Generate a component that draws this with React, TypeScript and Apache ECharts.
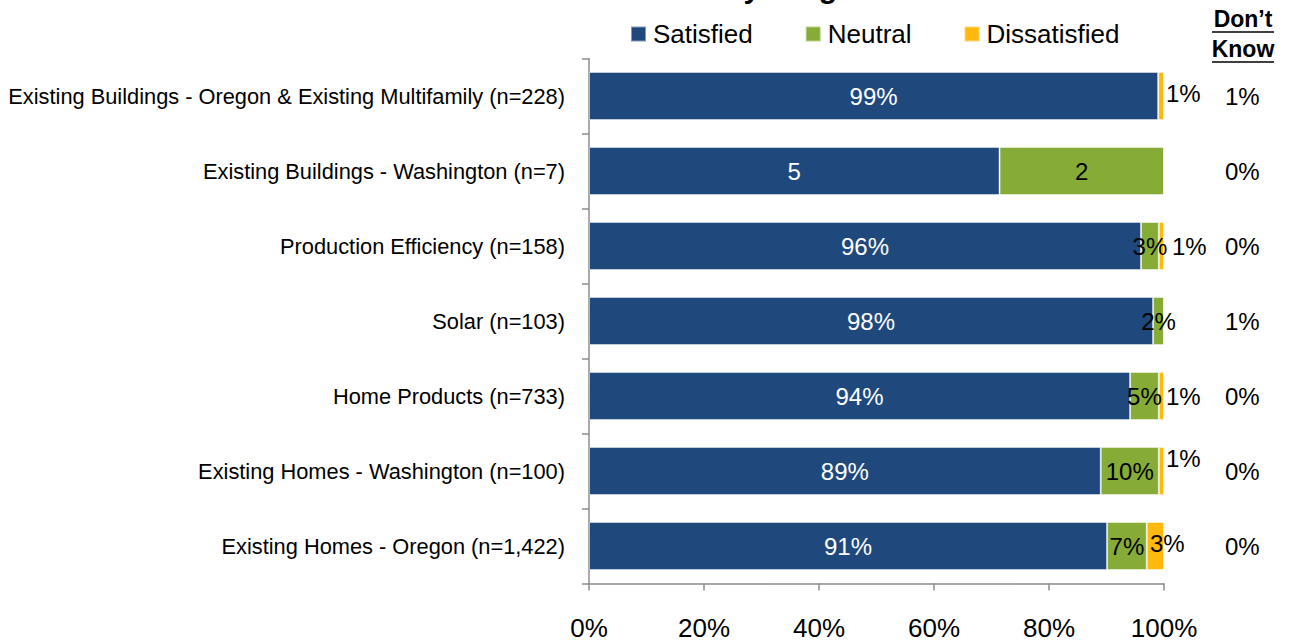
import React, { useEffect, useRef } from "react";
import * as echarts from "echarts";

const categories = [
  "Existing Buildings - Oregon & Existing Multifamily (n=228)",
  "Existing Buildings - Washington (n=7)",
  "Production Efficiency (n=158)",
  "Solar (n=103)",
  "Home Products (n=733)",
  "Existing Homes - Washington (n=100)",
  "Existing Homes - Oregon (n=1,422)",
];
const satisfied = [99, 71.4, 96, 98.1, 94.1, 89, 90.1];
const neutral = [0, 28.6, 3.1, 1.9, 5, 10.1, 6.9];
const dissatisfied = [1, 0, 0.9, 0, 0.9, 0.9, 3];
const satisfiedLabels = ["99%", "5", "96%", "98%", "94%", "89%", "91%"];
const neutralLabels = ["", "2", "3%", "2%", "5%", "10%", "7%"];
const dissatisfiedLabels = ["1%", "", "1%", "", "1%", "1%", "3%"];
const dontKnowLabels = ["1%", "0%", "0%", "1%", "0%", "0%", "0%"];
const xTicks = [0, 20, 40, 60, 80, 100];

const FONT = "'Liberation Sans', Arial, sans-serif";
const BLUE = "#1F497D";
const GREEN = "#86AB36";
const YELLOW = "#FFB80C";

export default function App() {
  const ref = useRef<HTMLDivElement>(null);
  useEffect(() => {
    if (!ref.current) return;
    const chart = echarts.init(ref.current, undefined, { renderer: "svg" });
    const yellowOffsets: Record<number, number[]> = {
      0: [0, -3],
      2: [6, 0],
      4: [0, 0],
      5: [0, -13],
      6: [-16, -3],
    };
    chart.setOption({
      animation: false,
      backgroundColor: "#fff",
      textStyle: { fontFamily: FONT },
      grid: { left: 589, right: 127, top: 58.5, bottom: 57.5 },
      legend: {
        left: 625,
        top: 16,
        icon: "rect",
        itemWidth: 15,
        itemHeight: 15,
        itemGap: 52,
        textStyle: { fontSize: 26, color: "#000", fontFamily: FONT, padding: [0, 0, 0, 2] },
        data: ["Satisfied", "Neutral", "Dissatisfied"],
      },
      xAxis: {
        type: "value",
        min: 0,
        max: 100,
        interval: 20,
        axisLine: { show: true, lineStyle: { color: "#8c8c8c", width: 1.5 } },
        axisTick: { show: true, length: 7, lineStyle: { color: "#8c8c8c", width: 1.5 } },
        splitLine: { show: false },
        axisLabel: {
          fontSize: 26,
          color: "#000",
          margin: 31,
          formatter: (v: number) => (xTicks.includes(v) ? v + "%" : ""),
        },
      },
      yAxis: [
        {
          type: "category",
          data: categories,
          inverse: true,
          axisLine: { show: true, lineStyle: { color: "#8c8c8c", width: 1.5 } },
          axisTick: { show: true, length: 7, lineStyle: { color: "#8c8c8c", width: 1.5 } },
          axisLabel: { fontSize: 21.8, color: "#000", margin: 24 },
        },
        {
          type: "category",
          data: dontKnowLabels,
          inverse: true,
          position: "right",
          axisLine: { show: false },
          axisTick: { show: false },
          axisLabel: { fontSize: 24, color: "#000", margin: 61 },
        },
      ],
      series: [
        {
          name: "Satisfied",
          type: "bar",
          stack: "total",
          barWidth: 48,
          itemStyle: { color: BLUE, borderColor: "rgba(255,255,255,0.45)", borderWidth: 1 },
          label: {
            show: true,
            position: "inside",
            color: "#fff",
            fontSize: 24,
            formatter: (p: any) => satisfiedLabels[p.dataIndex],
          },
          data: satisfied,
        },
        {
          name: "Neutral",
          type: "bar",
          stack: "total",
          barWidth: 48,
          itemStyle: { color: GREEN, borderColor: "rgba(255,255,255,0.45)", borderWidth: 1 },
          label: {
            show: true,
            position: "inside",
            color: "#000",
            fontSize: 24,
            formatter: (p: any) => neutralLabels[p.dataIndex],
          },
          data: neutral,
        },
        {
          name: "Dissatisfied",
          type: "bar",
          stack: "total",
          barWidth: 48,
          itemStyle: { color: YELLOW, borderColor: "rgba(255,255,255,0.45)", borderWidth: 1 },
          label: {
            show: true,
            position: "right",
            distance: 2,
            color: "#000",
            fontSize: 24,
            formatter: (p: any) => dissatisfiedLabels[p.dataIndex],
          },
          data: dissatisfied.map((v, i) => ({
            value: v,
            label: { offset: yellowOffsets[i] || [0, 0] },
          })),
        },
      ],
      graphic: [
        {
          type: "text",
          x: 892,
          y: 2,
          style: {
            text: "Overall Satisfaction by Program",
            font: "bold 30px " + FONT,
            align: "right",
            verticalAlign: "bottom",
            fill: "#000",
          },
        },
        {
          type: "text",
          x: 1243,
          y: 19,
          style: {
            text: "Don\u2019t",
            font: "bold 23px " + FONT,
            align: "center",
            verticalAlign: "middle",
            fill: "#000",
          },
        },
        {
          type: "line",
          shape: { x1: 1212, y1: 32, x2: 1274, y2: 32 },
          style: { stroke: "#000", lineWidth: 1.5 },
        },
        {
          type: "text",
          x: 1243,
          y: 49,
          style: {
            text: "Know",
            font: "bold 23px " + FONT,
            align: "center",
            verticalAlign: "middle",
            fill: "#000",
          },
        },
        {
          type: "line",
          shape: { x1: 1212, y1: 62, x2: 1274, y2: 62 },
          style: { stroke: "#000", lineWidth: 1.5 },
        },
      ],
    });
    return () => chart.dispose();
  }, []);
  return (
    <div
      ref={ref}
      style={{ position: "fixed", left: 0, top: 0, width: 1291, height: 641, background: "#fff" }}
    />
  );
}
